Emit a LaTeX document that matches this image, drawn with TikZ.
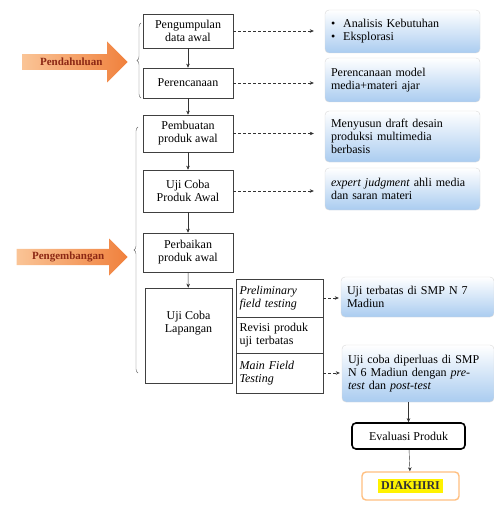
\documentclass[tikz,border=0pt]{standalone}
\usepackage{fontspec}
\setmainfont{Liberation Serif}
\usetikzlibrary{arrows.meta,shapes.arrows,decorations.pathreplacing}

\definecolor{noteblue}{RGB}{170,204,240}
\definecolor{arroworange}{RGB}{240,128,60}
\definecolor{arrowpale}{RGB}{250,196,150}
\definecolor{arrowtext}{RGB}{140,40,20}

\begin{document}
\begin{tikzpicture}[x=1pt, y=-1pt, >={Stealth[length=4pt,width=3.5pt]},
    font=\fontsize{12}{13}\selectfont,
    stepbox/.style={draw=black!75, line width=0.6pt, fill=white, align=center,
        minimum width=90pt, inner sep=2pt},
    subbox/.style={draw=black!75, line width=0.8pt, fill=white, align=left,
        minimum width=87pt, text width=80pt, inner sep=2pt},
    notebox/.style={draw=black!15, rounded corners=4pt, top color=white,
        bottom color=noteblue, align=left, inner xsep=6pt, inner ysep=3pt},
    phasearrow/.style={single arrow, single arrow head extend=8pt,
        left color=arrowpale, right color=arroworange, draw=none,
        text=arrowtext, font=\fontsize{11}{12}\selectfont\bfseries, inner sep=1pt},
    dasharrow/.style={->, densely dashed, black!80, shorten >=11pt}]

    % Fix the page size to the reference
    \useasboundingbox (0,0) rectangle (494,505);

    % Draw the phase arrows on the left
    \node[phasearrow, minimum height=105pt, minimum width=41pt, anchor=tip]
        (pendahuluan) at (128,62) {Pendahuluan};
    \node[phasearrow, minimum height=111pt, minimum width=37pt, anchor=tip]
        (pengembangan) at (128,257) {Pengembangan};

    % Draw the braces
    \draw[black!60, decorate, decoration={brace, amplitude=4pt}] (141,98) -- (141,23);
    \draw[black!60, decorate, decoration={brace, amplitude=4pt}] (138,373) -- (138,127);

    % Draw the main steps
    \node[stepbox, minimum height=34pt] (kumpul) at (188,31) {Pengumpulan\\data awal};
    \node[stepbox, minimum height=30pt] (rencana) at (188,83) {Perencanaan};
    \node[stepbox, minimum height=37pt] (buat) at (188,133.5) {Pembuatan\\produk awal};
    \node[stepbox, minimum height=42pt] (ujiawal) at (188,191) {Uji Coba\\Produk Awal};
    \node[stepbox, minimum height=39pt] (perbaiki) at (188,252.5) {Perbaikan\\produk awal};
    \node[stepbox, minimum width=87pt, minimum height=95pt] (ujilap) at (188.5,335.5)
        {Uji Coba\\Lapangan\\[14pt]};

    % Draw the parts of the field test
    \node[subbox, minimum height=38pt] (prelim) at (279.5,298)
        {\textit{Preliminary}\\\textit{field testing}};
    \node[subbox, minimum height=36pt] (revisi) at (279.5,335)
        {Revisi produk\\uji terbatas};
    \node[subbox, minimum height=40pt] (mainfield) at (279.5,373)
        {\textit{Main Field}\\\textit{Testing}};

    % Draw the notes on the right
    \node[notebox, minimum width=155pt, minimum height=43pt, text width=143pt]
        (analisis) at (402.5,31.5) {\textbullet~~Analisis Kebutuhan\\\textbullet~~Eksplorasi};
    \node[notebox, minimum width=155pt, minimum height=44pt, text width=143pt]
        (model) at (402.5,80) {Perencanaan model\\media+materi ajar};
    \node[notebox, minimum width=155pt, minimum height=51pt, text width=143pt]
        (draf) at (402.5,136.5) {Menyusun draft desain\\produksi multimedia\\berbasis};
    \node[notebox, minimum width=155pt, minimum height=42pt, text width=143pt]
        (expert) at (402.5,189) {\textit{expert judgment} ahli media\\dan saran materi};
    \node[notebox, minimum width=153pt, minimum height=40pt, text width=141pt]
        (terbatas) at (417.5,297) {Uji terbatas di SMP N 7\\Madiun};
    \node[notebox, minimum width=152pt, minimum height=57pt, text width=140pt]
        (diperluas) at (418,373.5)
        {Uji coba diperluas di SMP\\N 6 Madiun dengan \textit{pre-}\\\textit{test} dan \textit{post-test}};

    % Draw the end boxes
    \node[draw, line width=1.6pt, rounded corners=4pt, fill=white,
        minimum width=113pt, minimum height=26pt] (evaluasi) at (408.5,436) {Evaluasi Produk};
    \node[draw=orange!50, line width=1.4pt, rounded corners=4pt, fill=white,
        minimum width=97pt, minimum height=28pt] (akhir) at (410.5,486)
        {\colorbox{yellow}{\textbf{\textcolor{black!80}{DIAKHIRI}}}};

    % Draw the arrows between the steps
    \foreach \a/\b in {kumpul/rencana, rencana/buat, buat/ujiawal, ujiawal/perbaiki, perbaiki/ujilap}
        \draw[->, black!80] (\a) -- (\b);

    % Draw the dashed arrows to the notes
    \foreach \a/\b in {kumpul/analisis, rencana/model, buat/draf, ujiawal/expert}
        \draw[dasharrow] (\a.east) -- (\a.east -| \b.west);
    \foreach \a/\b in {prelim/terbatas, mainfield/diperluas}
        \draw[dasharrow, shorten >=2pt] (\a.east) -- (\a.east -| \b.west);

    % Draw the arrows to the end
    \draw[->, black!80] (evaluasi.north |- diperluas.south) -- (evaluasi.north);
    \draw[->, black!80] (evaluasi) -- (akhir);

\end{tikzpicture}
\end{document}
